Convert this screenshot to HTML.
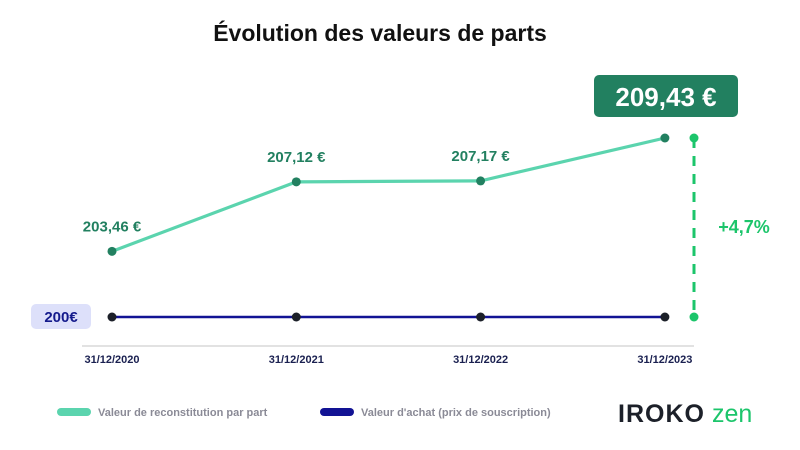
<!DOCTYPE html>
<html><head><meta charset="utf-8"><style>
body{margin:0;background:#fff;width:800px;height:445px;overflow:hidden;font-family:"Liberation Sans",sans-serif}
</style></head><body>
<svg width="800" height="445" xmlns="http://www.w3.org/2000/svg">
<text x="380" y="41" text-anchor="middle" font-size="23" font-weight="bold" fill="#111">Évolution des valeurs de parts</text>
<line x1="82" y1="346" x2="694" y2="346" stroke="#e2e2e2" stroke-width="2"/>
<g id="marks"></g>
<rect x="31" y="304" width="60" height="25" rx="5" fill="#dde0fa"/>
<text x="61" y="322" text-anchor="middle" font-size="15" font-weight="bold" fill="#141a8c">200€</text>
<rect x="594" y="75" width="144" height="42" rx="5" fill="#228060"/>
<text x="666" y="106" text-anchor="middle" font-size="26" font-weight="bold" fill="#fff">209,43 €</text>
<text x="744" y="233" text-anchor="middle" font-size="18" font-weight="bold" fill="#1cc56b">+4,7%</text>
<rect x="57" y="408" width="34" height="8" rx="4" fill="#5bd4ae"/>
<text x="98" y="416" font-size="11" font-weight="bold" fill="#8a8a96">Valeur de reconstitution par part</text>
<rect x="320" y="408" width="34" height="8" rx="4" fill="#121394"/>
<text x="361" y="416" font-size="11" font-weight="bold" fill="#8a8a96">Valeur d'achat (prix de souscription)</text>
<text x="618" y="422" font-size="25" font-weight="bold" fill="#1c2029" letter-spacing="1">IROKO</text>
<text x="712" y="422" font-size="25" fill="#1cc56b">zen</text>
</svg>
<script>
const categories=["31/12/2020","31/12/2021","31/12/2022","31/12/2023"];
const reconValues=[203.46,207.12,207.17,209.43];
const reconLabels=["203,46 €","207,12 €","207,17 €",""];
const purchaseValues=[200,200,200,200];
const ns="http://www.w3.org/2000/svg";
const g=document.getElementById("marks");
function xs(i){return 112+i*184.3;}
function ys(v){return 317-(v-200)*(179/9.43);}
function mk(t,a){const e=document.createElementNS(ns,t);for(const k in a)e.setAttribute(k,a[k]);g.appendChild(e);return e;}
const last=reconValues.length-1;
let d=mk("line",{x1:694,y1:ys(reconValues[last]),x2:694,y2:ys(purchaseValues[last]),stroke:"#1cc56b","stroke-width":3,"stroke-dasharray":"10,8"});


[ys(reconValues[last]),ys(purchaseValues[last])].forEach(y=>{const c=mk("circle",{cx:694,cy:y,r:4.5,fill:"#1cc56b"});

});
let p1=mk("polyline",{points:purchaseValues.map((v,i)=>xs(i)+","+ys(v)).join(" "),fill:"none",stroke:"#121394","stroke-width":2.5});


let p2=mk("polyline",{points:reconValues.map((v,i)=>xs(i)+","+ys(v)).join(" "),fill:"none",stroke:"#5bd4ae","stroke-width":3.2});


purchaseValues.forEach((v,i)=>{const c=mk("circle",{cx:xs(i),cy:ys(v),r:4.5,fill:"#1c2029"});

});
reconValues.forEach((v,i)=>{const c=mk("circle",{cx:xs(i),cy:ys(v),r:4.5,fill:"#228060"});


if(reconLabels[i]){const t=mk("text",{x:xs(i),y:ys(v)-20,"text-anchor":"middle","font-size":15,"font-weight":"bold",fill:"#228060"});t.textContent=reconLabels[i];

}});
categories.forEach((c,i)=>{const t=mk("text",{x:xs(i),y:363,"text-anchor":"middle","font-size":11,"font-weight":"bold",fill:"#1a2050"});t.textContent=c;

});
</script>
</body></html>
